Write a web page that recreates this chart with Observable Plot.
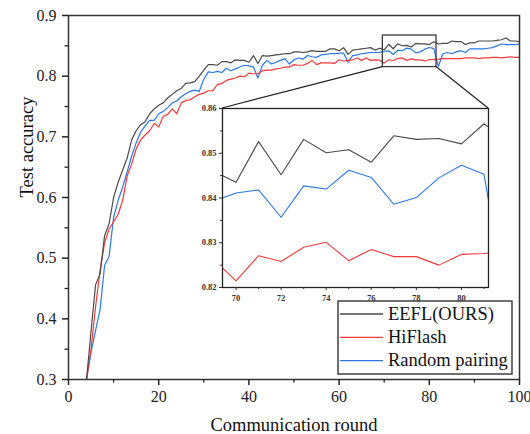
<!DOCTYPE html>
<html>
<head>
<meta charset="utf-8">
<script src="https://cdn.jsdelivr.net/npm/d3@7"></script>
<script src="https://cdn.jsdelivr.net/npm/@observablehq/plot@0.6"></script>
<style>
  html, body { margin: 0; padding: 0; background: white; }
  #wrap { position: relative; width: 530px; height: 434px; overflow: hidden; }
  #wrap svg { position: absolute; overflow: visible; }
  #wrap svg text { font-family: "Liberation Serif", "Times New Roman", serif; font-variant-numeric: normal; }
</style>
</head>
<body>
<div id="wrap"></div>
<script>
// ---- data (rounds 4..100) ----
const seriesNames = ["EEFL(OURS)", "HiFlash", "Random pairing"];
const seriesColors = ["#4a4a4a", "#f03a3a", "#2b78e4"];
const firstRound = 4;

const eefl = [
  0.300, 0.380, 0.456, 0.474, 0.537, 0.557, 0.600, 0.625, 0.645, 0.665,
  0.695, 0.710, 0.720, 0.725, 0.738, 0.746, 0.752, 0.756, 0.764, 0.770,
  0.776, 0.780, 0.788, 0.789, 0.791, 0.800, 0.810, 0.819, 0.819, 0.818,
  0.824, 0.824, 0.822, 0.827, 0.826, 0.826, 0.823, 0.834, 0.821, 0.834,
  0.833, 0.834, 0.835, 0.836, 0.837, 0.837, 0.840, 0.840, 0.839, 0.840,
  0.842, 0.841, 0.841, 0.841, 0.845, 0.845, 0.842, 0.847, 0.836, 0.843,
  0.844, 0.845, 0.846, 0.847, 0.843, 0.846, 0.8435, 0.8526, 0.8452, 0.8531,
  0.8501, 0.8508, 0.8480, 0.8539, 0.8531, 0.8533, 0.8521, 0.8566, 0.853, 0.854,
  0.854, 0.858, 0.857, 0.857, 0.852, 0.855, 0.855, 0.858, 0.858, 0.858,
  0.858, 0.859, 0.860, 0.863, 0.858, 0.858, 0.857
];
const hiflash = [
  0.300, 0.350, 0.420, 0.480, 0.525, 0.548, 0.560, 0.572, 0.595, 0.635,
  0.655, 0.680, 0.695, 0.703, 0.710, 0.722, 0.716, 0.734, 0.737, 0.746,
  0.738, 0.756, 0.760, 0.761, 0.766, 0.770, 0.772, 0.776, 0.776, 0.786,
  0.788, 0.793, 0.795, 0.797, 0.800, 0.799, 0.805, 0.804, 0.804, 0.809,
  0.810, 0.810, 0.812, 0.813, 0.815, 0.815, 0.819, 0.818, 0.818, 0.821,
  0.826, 0.819, 0.822, 0.822, 0.822, 0.821, 0.827, 0.825, 0.826, 0.827,
  0.830, 0.826, 0.830, 0.826, 0.827, 0.8263, 0.8215, 0.8271, 0.8258, 0.8290,
  0.8301, 0.8260, 0.8285, 0.8269, 0.8269, 0.8250, 0.8274, 0.8276, 0.828, 0.829,
  0.829, 0.829, 0.829, 0.829, 0.830, 0.830, 0.830, 0.829, 0.830, 0.830,
  0.831, 0.831, 0.830, 0.831, 0.832, 0.831, 0.831
];
const randomPairing = [
  0.300, 0.345, 0.381, 0.415, 0.488, 0.503, 0.567, 0.595, 0.617, 0.642,
  0.668, 0.690, 0.708, 0.718, 0.727, 0.727, 0.738, 0.742, 0.748, 0.756,
  0.759, 0.766, 0.771, 0.775, 0.777, 0.775, 0.795, 0.807, 0.806, 0.808,
  0.806, 0.813, 0.809, 0.812, 0.815, 0.818, 0.817, 0.815, 0.797, 0.818,
  0.826, 0.820, 0.823, 0.826, 0.829, 0.820, 0.827, 0.830, 0.828, 0.834,
  0.832, 0.831, 0.835, 0.836, 0.837, 0.837, 0.838, 0.838, 0.823, 0.834,
  0.835, 0.837, 0.838, 0.839, 0.839, 0.8393, 0.8411, 0.8418, 0.8357, 0.8427,
  0.8420, 0.8462, 0.8446, 0.8386, 0.8401, 0.8445, 0.8473, 0.8453, 0.816, 0.837,
  0.839, 0.837, 0.840, 0.842, 0.839, 0.845, 0.845, 0.845, 0.845, 0.846,
  0.847, 0.850, 0.853, 0.852, 0.852, 0.852, 0.853
];

const xTicks = [0, 20, 40, 60, 80, 100];
const xMinorTicks = [10, 30, 50, 70, 90];
const yTicks = [0.3, 0.4, 0.5, 0.6, 0.7, 0.8, 0.9];
const yMinorTicks = [0.35, 0.45, 0.55, 0.65, 0.75, 0.85];
const insetXDomain = [69.4, 81.2];
const insetYDomain = [0.82, 0.86];
const insetXTicks = [70, 72, 74, 76, 78, 80];
const insetXMinor = [71, 73, 75, 77, 79, 81];
const insetYTicks = [0.82, 0.83, 0.84, 0.85, 0.86];
const insetYMinor = [0.825, 0.835, 0.845, 0.855];
const zoomBox = {x1: 69.7, x2: 81.6, y1: 0.815, y2: 0.867};

// ---- table ----
const valueSets = [eefl, hiflash, randomPairing];
const rows = [];
[2, 1, 0].forEach(si => {
  valueSets[si].forEach((v, i) => rows.push({series: seriesNames[si], round: firstRound + i, value: v}));
});

const font = "Liberation Serif, Times New Roman, serif";
const color = {domain: seriesNames, range: seriesColors};

// ---- main chart ----
const W = 530, H = 434, mL = 68, mR = 11, mT = 15, mB = 55;
const main = Plot.plot({
  width: W, height: H,
  marginLeft: mL, marginRight: mR, marginTop: mT, marginBottom: mB,
  style: {fontFamily: font, fontSize: "16px", color: "#222", background: "none"},
  x: {domain: [0, 100]},
  y: {domain: [0.3, 0.9]},
  color,
  marks: [
    Plot.line(rows, {x: "round", y: "value", z: "series", stroke: "series", strokeWidth: 1.2, clip: true}),
    Plot.rect([zoomBox], {x1: "x1", x2: "x2", y1: "y1", y2: "y2", fill: "none", stroke: "#3a3a3a", strokeWidth: 1.3}),
    Plot.frame({stroke: "#333", strokeWidth: 1.5}),
    Plot.axisX({ticks: xTicks, tickSize: 6, tickPadding: 5, tickFormat: d => String(d), label: null, strokeWidth: 1.5, fontSize: 16, fontFamily: font}),
    Plot.axisX({ticks: xMinorTicks, tickSize: 3.5, tickFormat: () => "", label: null, strokeWidth: 1.3}),
    Plot.axisY({ticks: yTicks, tickSize: 6, tickPadding: 6, tickFormat: d3.format(".1f"), label: null, strokeWidth: 1.5, fontSize: 16, fontFamily: font}),
    Plot.axisY({ticks: yMinorTicks, tickSize: 3.5, tickFormat: () => "", label: null, strokeWidth: 1.3}),
    Plot.text(["Communication round"], {frameAnchor: "bottom", dy: 51, lineAnchor: "bottom", fontSize: 18.5, fill: "#111", fontFamily: font}),
    Plot.text(["Test accuracy"], {frameAnchor: "left", dx: -36, rotate: -90, lineAnchor: "bottom", fontSize: 18.5, fill: "#111", fontFamily: font})
  ]
});
main.style.left = "0px";
main.style.top = "0px";
document.getElementById("wrap").appendChild(main);

// ---- inset ----
const iL = 222, iT = 108, iW = 266, iH = 179;
const imL = 32, imR = 4, imT = 4, imB = 16;
const inset = Plot.plot({
  width: iW + imL + imR, height: iH + imT + imB,
  marginLeft: imL, marginRight: imR, marginTop: imT, marginBottom: imB,
  style: {fontFamily: font, fontSize: "8.5px", color: "#333", background: "none"},
  x: {domain: insetXDomain},
  y: {domain: insetYDomain},
  color,
  marks: [
    Plot.frame({fill: "white", stroke: null}),
    Plot.line(rows, {x: "round", y: "value", z: "series", stroke: "series", strokeWidth: 1.1, clip: true}),
    Plot.frame({stroke: "#222", strokeWidth: 1.3}),
    Plot.axisX({ticks: insetXTicks, tickSize: 3, tickPadding: 4, label: null, fontSize: 8.5, fontFamily: font, fontWeight: "bold"}),
    Plot.axisX({ticks: insetXMinor, tickSize: 2, tickFormat: () => "", label: null}),
    Plot.axisY({ticks: insetYTicks, tickSize: 3, tickPadding: 3, tickFormat: d3.format(".2f"), label: null, fontSize: 8.5, fontFamily: font, fontWeight: "bold"}),
    Plot.axisY({ticks: insetYMinor, tickSize: 2, tickFormat: () => "", label: null})
  ]
});
inset.style.left = (iL - imL) + "px";
inset.style.top = (iT - imT) + "px";
document.getElementById("wrap").appendChild(inset);

// ---- connector lines & legend in main svg ----
const sx = main.scale("x"), sy = main.scale("y");
const svg = d3.select(main);
const bx1 = sx.apply(zoomBox.x1), bx2 = sx.apply(zoomBox.x2), by = sy.apply(zoomBox.y1);
svg.append("line").attr("x1", bx1).attr("y1", by).attr("x2", iL).attr("y2", iT)
  .attr("stroke", "#222").attr("stroke-width", 1.2);
svg.append("line").attr("x1", bx2).attr("y1", by).attr("x2", iL + iW).attr("y2", iT)
  .attr("stroke", "#222").attr("stroke-width", 1.2);

const lg = svg.append("g").attr("font-family", font).attr("font-size", 18.5).attr("text-anchor", "start");
lg.append("rect").attr("x", 338).attr("y", 301).attr("width", 174).attr("height", 73)
  .attr("fill", "white").attr("stroke", "#333").attr("stroke-width", 1.4);
seriesNames.forEach((name, i) => {
  const y = 314 + i * 23.3;
  lg.append("line").attr("x1", 340).attr("x2", 383).attr("y1", y).attr("y2", y)
    .attr("stroke", seriesColors[i]).attr("stroke-width", 1.3);
  lg.append("text").attr("x", 388).attr("y", y + 5.5).attr("fill", "#111").attr("text-anchor", "start").text(name);
});
</script>
</body>
</html>
